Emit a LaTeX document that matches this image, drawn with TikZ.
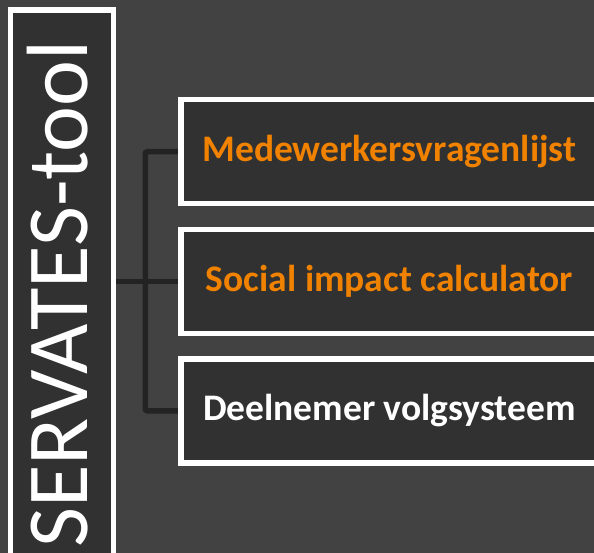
\documentclass[tikz,border=0pt]{standalone}
\usepackage{fontspec}
\setmainfont{Carlito}
\usetikzlibrary{backgrounds}
\definecolor{bgcol}{RGB}{66,66,66}
\definecolor{boxfill}{RGB}{49,49,49}
\definecolor{orangetxt}{RGB}{240,130,0}
\definecolor{conncol}{RGB}{35,35,35}
\tikzset{
  itembox/.style={draw=white, line width=5.5pt, fill=boxfill, rectangle,
    minimum width=417pt, minimum height=104pt, inner sep=0pt,
    font=\fontsize{37.5}{40}\selectfont\bfseries},
  mainbox/.style={draw=white, line width=5.5pt, fill=boxfill, rectangle,
    minimum width=103pt, minimum height=550pt, inner sep=0pt},
  conn/.style={draw=conncol, line width=5.5pt, rounded corners=2pt}
}
\begin{document}
\begin{tikzpicture}[x=1pt,y=-1pt]
\useasboundingbox (0,0) rectangle (594,553);
\clip (0,0) rectangle (594,553);
\node[mainbox] (servbox) at (62,285) {};
\node[rotate=90, anchor=base, text=white, inner sep=0pt,
  font=\fontsize{87}{90}\selectfont] (servtext) at (87,294) {SERVATES-tool};
\node[itembox, text=orangetxt] (box1) at (389.5,151.75) {Medewerkersvragenlijst};
\node[itembox, text=orangetxt] (box2) at (389.5,281.5) {Social impact calculator};
\node[itembox, text=white] (box3) at (389.5,410.75) {Deelnemer volgsysteem};
\begin{scope}[on background layer]
\fill[bgcol] (0,0) rectangle (594,553);
\draw[conn] (box1.west) -- ++(-33,0) |- (box3.west);
\draw[conn] (servbox.east |- box2.west) -- (box2.west);
\end{scope}
\end{tikzpicture}
\end{document}
